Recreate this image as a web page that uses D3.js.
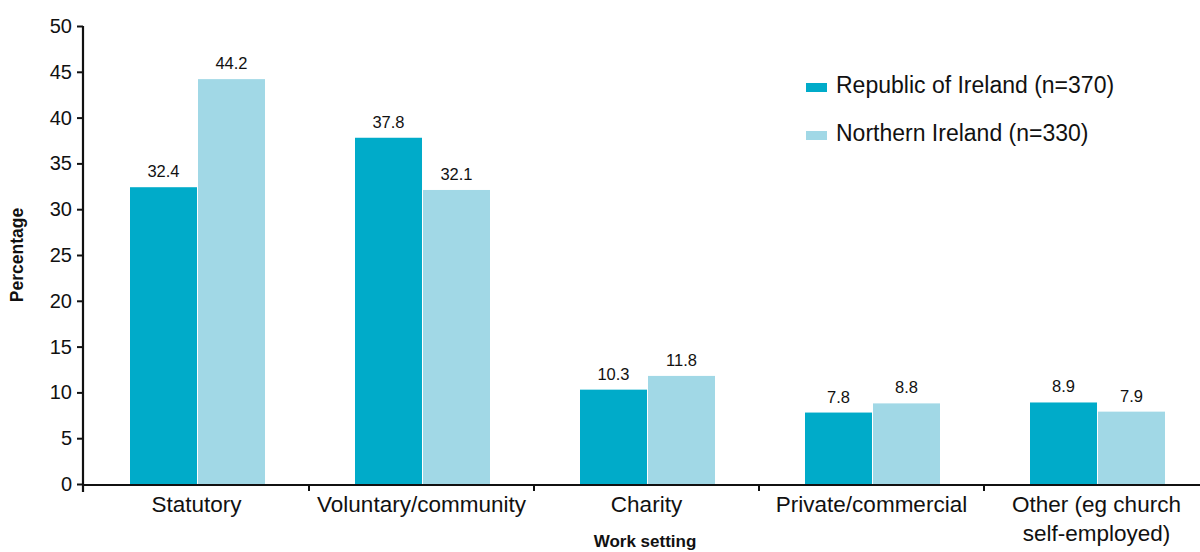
<!DOCTYPE html>
<html>
<head>
<meta charset="utf-8">
<script src="https://cdn.jsdelivr.net/npm/d3@7"></script>
<style>
  body { margin: 0; background: #fff; }
  svg { display: block; font-family: "Liberation Sans", Arial, Helvetica, sans-serif; }
</style>
</head>
<body>
<svg id="chart" width="1200" height="552"></svg>
<script>
// Work setting of respondents, percentage by jurisdiction
const categories = ["Statutory", "Voluntary/community", "Charity", "Private/commercial", "Other (eg church\nself-employed)"];
const seriesNames = ["Republic of Ireland (n=370)", "Northern Ireland (n=330)"];
const roiValues = [32.4, 37.8, 10.3, 7.8, 8.9];
const niValues = [44.2, 32.1, 11.8, 8.8, 7.9];
const yTicks = [0, 5, 10, 15, 20, 25, 30, 35, 40, 45, 50];
const colors = ["#00abc9", "#a1d8e6"];

const svg = d3.select("#chart");
const plotLeft = 84, plotBottom = 484, plotTop = 26, bandW = 225;

const x = d3.scaleBand()
  .domain(categories)
  .range([plotLeft, plotLeft + bandW * categories.length])
  .paddingInner(0).paddingOuter(0);

const y = d3.scaleLinear().domain([0, 50]).range([plotBottom, plotTop]);

const inner = d3.scaleBand()
  .domain(seriesNames)
  .range([46, 46 + 135])
  .paddingInner(0.015);

const rows = categories.map((c, i) => ({ cat: c, vals: [roiValues[i], niValues[i]] }));

// bars
const groups = svg.append("g").selectAll("g")
  .data(rows).join("g")
  .attr("transform", d => `translate(${x(d.cat)},0)`);

groups.selectAll("rect")
  .data(d => d.vals.map((v, k) => ({ v, k })))
  .join("rect")
  .attr("x", d => inner(seriesNames[d.k]))
  .attr("width", inner.bandwidth())
  .attr("y", d => y(d.v))
  .attr("height", d => y(0) - y(d.v))
  .attr("fill", d => colors[d.k]);

groups.selectAll("text.val")
  .data(d => d.vals.map((v, k) => ({ v, k })))
  .join("text")
  .attr("class", "val")
  .attr("x", d => inner(seriesNames[d.k]) + inner.bandwidth() / 2)
  .attr("y", d => y(d.v) - 10)
  .attr("text-anchor", "middle")
  .attr("font-size", 16.5)
  .attr("fill", "#111")
  .text(d => d.v.toFixed(1));

// y axis
const yAxis = svg.append("g")
  .attr("transform", `translate(${plotLeft - 1},0)`)
  .call(d3.axisLeft(y).tickValues(yTicks).tickSize(6).tickPadding(5).tickFormat(d3.format("d")));
yAxis.select(".domain").attr("stroke", "#111").attr("stroke-width", 2.2)
  .attr("d", `M0,${plotTop}V${plotBottom + 8}`);
yAxis.selectAll(".tick line").attr("stroke", "#111").attr("stroke-width", 2);
yAxis.selectAll(".tick text").attr("font-size", 20).attr("fill", "#111");

// x axis
const xAxis = svg.append("g")
  .attr("transform", `translate(0,${plotBottom + 1})`)
  .call(d3.axisBottom(x).tickSize(0).tickFormat(""));
xAxis.select(".domain").attr("stroke", "#111").attr("stroke-width", 2.2)
  .attr("d", `M${plotLeft - 1},0H1210`);

// boundary ticks between categories
svg.append("g").selectAll("line")
  .data(categories.slice(1))
  .join("line")
  .attr("x1", d => x(d)).attr("x2", d => x(d))
  .attr("y1", plotBottom + 1).attr("y2", plotBottom + 7)
  .attr("stroke", "#111").attr("stroke-width", 2);

// category labels
svg.append("g").selectAll("text")
  .data(categories)
  .join("text")
  .attr("text-anchor", "middle")
  .attr("font-size", 22.5)
  .attr("fill", "#111")
  .each(function (d) {
    const lines = d.split("\n");
    const t = d3.select(this);
    lines.forEach((ln, i) => {
      t.append("tspan")
        .attr("x", x(d) + x.bandwidth() / 2)
        .attr("y", 512 + i * 29)
        .text(ln);
    });
  });

// axis titles
svg.append("text")
  .attr("x", 645).attr("y", 547)
  .attr("text-anchor", "middle")
  .attr("font-size", 17).attr("font-weight", "bold")
  .attr("fill", "#111")
  .text("Work setting");

svg.append("text")
  .attr("transform", "translate(23,255) rotate(-90)")
  .attr("text-anchor", "middle")
  .attr("font-size", 17.5).attr("font-weight", "bold")
  .attr("fill", "#111")
  .text("Percentage");

// legend
const legend = svg.append("g").selectAll("g")
  .data(seriesNames)
  .join("g")
  .attr("transform", (d, i) => `translate(806,${86 + i * 48})`);
legend.append("rect")
  .attr("x", 0).attr("y", -3).attr("width", 21).attr("height", 9)
  .attr("fill", (d, i) => colors[i]);
legend.append("text")
  .attr("x", 30).attr("y", 7)
  .attr("font-size", 23).attr("fill", "#111")
  .text(d => d);
</script>
</body>
</html>
